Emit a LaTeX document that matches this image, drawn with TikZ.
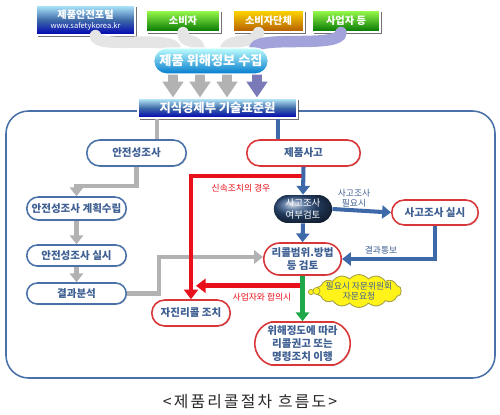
\documentclass[tikz,border=0pt]{standalone}
\usepackage{fontspec}
\setmainfont{Noto Sans CJK KR}
\usetikzlibrary{arrows.meta,shapes.misc,shapes.symbols,shadows,calc}
\definecolor{frameblue}{HTML}{4A72A8}
\definecolor{txtblue}{HTML}{3E5F92}
\definecolor{redline}{HTML}{E8101A}
\definecolor{pillred}{HTML}{D9363A}
\definecolor{conblue}{HTML}{3D69A8}
\definecolor{flowgray}{HTML}{B2B2B2}
\definecolor{greenline}{HTML}{1FA84A}
\begin{document}
\begin{tikzpicture}[x=0.02cm,y=-0.02cm,
  pill/.style={rounded rectangle, draw, line width=0.9pt, fill=white, text=txtblue, align=center,
    font=\fontsize{6}{7.2}\selectfont\bfseries, inner sep=1pt,
    drop shadow={shadow xshift=0.6pt, shadow yshift=-0.6pt, opacity=0.25}},
  bpill/.style={pill, draw=frameblue},
  rpill/.style={pill, draw=pillred},
  topbox/.style={rectangle, draw=white, line width=0.6pt, text=white, align=center, inner sep=1pt,
    font=\fontsize{5.8}{6.6}\selectfont\bfseries,
    drop shadow={shadow xshift=1.2pt, shadow yshift=-1.2pt, fill=black!70, opacity=0.8}},
  grayline/.style={draw=flowgray, line width=2.4pt},
  grayarrow/.style={grayline, -{Triangle[length=5pt,width=7.5pt]}},
  bluearrow/.style={draw=conblue, line width=2.3pt, -{Triangle[length=5pt,width=7.5pt]}},
  redarrow/.style={draw=redline, line width=2.8pt, -{Triangle[length=5.5pt,width=8pt]}},
  greenarrow/.style={draw=greenline, line width=2.4pt, -{Triangle[length=5pt,width=7.5pt]}},
  bigdown/.style={line width=5.5pt, -{Triangle[length=9pt,width=11.5pt]}},
  flowband/.style={line width=6.5pt, draw=gray!20, line cap=round},
  lbl/.style={font=\fontsize{5}{6}\selectfont, align=center, inner sep=0.5pt},
  collectstyle/.style={rounded rectangle, minimum width=2.36cm, minimum height=0.52cm, top color=cyan!25!white, bottom color=cyan!60!blue!80!black,
    draw=white, line width=0.6pt, text=white, font=\fontsize{7.5}{8}\selectfont\bfseries, inner sep=1pt},
]
\useasboundingbox (0,0) rectangle (500,415);

% frame
\draw[frameblue, line width=0.9pt, rounded corners=0.45cm] (6,111) rectangle (495,378);

% top boxes
\node[topbox, minimum width=1.98cm, minimum height=0.6cm, top color=blue!25!cyan!30!white, bottom color=blue!70!black, middle color=conblue]
  (portal) at (85.5,20) {제품안전포털\\[-1pt]{\fontsize{4.3}{5}\selectfont\mdseries www.safetykorea.kr}};
\node[topbox, minimum width=1.48cm, minimum height=0.44cm, top color=green!55!yellow!70!white, bottom color=green!45!black]
  (cons) at (183,21) {소비자};
\node[topbox, minimum width=1.42cm, minimum height=0.44cm, top color=yellow!70!orange, bottom color=orange!70!black]
  (group) at (268.5,21) {소비자단체};
\node[topbox, minimum width=1.36cm, minimum height=0.44cm, top color=green!55!yellow!70!white, bottom color=green!45!black]
  (biz) at (346,21) {사업자 등};

% collect (placeholder for anchors)
\node[collectstyle] (collect) at (211,61) {제품 위해정보 수집};

% flow bands into collect
\draw[flowband] ([xshift=0.2cm]portal.south) .. controls +(0,14) and +(-10,-12) .. ([xshift=-0.72cm]collect.north);
\draw[flowband] (cons.south) .. controls +(0,12) and +(-4,-10) .. ([xshift=-0.24cm]collect.north);
\draw[flowband] ([xshift=-0.2cm]group.south) .. controls +(0,12) and +(6,-10) .. ([xshift=0.3cm]collect.north);
\draw[line width=6.5pt, draw=gray!55!blue!50!white, line cap=round] ([xshift=-0.1cm]biz.south) .. controls +(0,16) and +(6,-12) .. ([xshift=0.88cm]collect.north);
\node[collectstyle] (collect2) at (collect) {제품 위해정보 수집};

% KATS
\node[topbox, minimum width=3.18cm, minimum height=0.4cm, top color=blue!20!cyan!25!white, bottom color=blue!70!black, middle color=conblue,
  font=\fontsize{7}{8}\selectfont\bfseries]
  (kats) at (217.5,108) {지식경제부 기술표준원};

% big down arrows
\draw[bigdown, draw=flowgray, fill=flowgray] ([xshift=-0.76cm]collect.south) -- ([xshift=-0.89cm]kats.north);
\draw[bigdown, draw=flowgray, fill=flowgray] ([xshift=-0.22cm]collect.south) -- ([xshift=-0.35cm]kats.north);
\draw[bigdown, draw=flowgray, fill=flowgray] ([xshift=0.32cm]collect.south) -- ([xshift=0.19cm]kats.north);
\draw[bigdown, draw=gray!70!blue!80!white, fill=gray!70!blue!80!white] ([xshift=0.92cm]collect.south) -- ([xshift=0.79cm]kats.north);

% pills
\node[bpill, minimum width=2.06cm, minimum height=0.52cm] (anj) at (136.5,153) {안전성조사};
\node[rpill, minimum width=2.34cm, minimum height=0.52cm] (acc) at (303.5,153) {제품사고};
\node[bpill, minimum width=2.06cm, minimum height=0.46cm] (plan) at (76.5,208.5) {안전성조사 계획수립};
\node[bpill, minimum width=2.06cm, minimum height=0.42cm] (exec) at (76.5,255.5) {안전성조사 실시};
\node[bpill, minimum width=2.06cm, minimum height=0.42cm] (anal) at (76.5,293.5) {결과분석};
\node[rpill, minimum width=1.8cm, minimum height=0.5cm] (invest) at (435,212.5) {사고조사 실시};
\node[rpill, minimum width=1.62cm, minimum height=0.64cm] (recall) at (302.5,259) {리콜범위.방법\\등 검토};
\node[rpill, minimum width=1.64cm, minimum height=0.52cm] (self) at (191,313) {자진리콜 조치};
\node[pill, draw=pillred, rounded rectangle arc length=150, minimum width=1.98cm, minimum height=0.86cm] (order) at (302.5,343.5) {위해정도에 따라\\리콜권고 또는\\명령조치 이행};
\node[rounded rectangle, minimum width=1.2cm, minimum height=0.56cm, ball color=conblue!80!black, draw=none,
  text=white, font=\fontsize{5.4}{6.4}\selectfont, align=center, inner sep=0.5pt] (review) at (303,209) {사고조사\\여부검토};

% connectors
\draw[grayline] ([xshift=0.41cm]anj.north |- kats.south) -- ([xshift=0.41cm]anj.north);
\draw[draw=conblue, line width=2.3pt] ([xshift=-0.51cm]acc.north |- kats.south) -- ([xshift=-0.51cm]acc.north);
\draw[grayarrow] (anj.south) -- ++(0,19) -| (plan.north);
\draw[grayarrow] (plan.south) -- (exec.north);
\draw[grayarrow] (exec.south) -- (anal.north);
\draw[grayarrow] (anal.east) -- ++(32,0) |- ([yshift=0.04cm]recall.west);

\coordinate (rs) at ($(acc.south)!0.33!(review.north)$);
\draw[redarrow] (rs) -| (self.north);
\draw[bluearrow] (acc.south) -- (review.north);
\node[lbl, text=redline] (lq) at (241,188) {신속조치의 경우};

\draw[bluearrow] (review.east) -- (invest.west);
\node[lbl, text=txtblue] (lneed) at (354,198) {사고조사\\필요시};
\draw[bluearrow] (invest.south) |- (recall.east);
\node[lbl, text=txtblue] (lres) at (381,250) {결과통보};
\draw[bluearrow] (review.south) -- (recall.north);

\coordinate (ra) at ($(recall.south)+(0,10)$);
\coordinate (rb) at ($(self.north |- ra)+(5,0)$);
\draw[redarrow] (ra) -- (rb);
\node[lbl, text=redline] (lag) at (262,297) {사업자와 합의시};
\draw[greenarrow] (recall.south) -- (order.north);

% cloud callout
\node[cloud, cloud puffs=14, cloud puff arc=100, aspect=3.4, draw=yellow!60!black, fill=yellow!90!white, line width=0.5pt,
  minimum width=1.62cm, minimum height=0.48cm, lbl, text=txtblue, inner sep=-2pt] (cloud) at (359,291) {필요시 자문위원회\\자문요청};
\node[circle, draw=yellow!60!black, fill=yellow!90!white, line width=0.4pt, inner sep=0pt, minimum size=3pt] (b1) at (311,292) {};
\node[circle, draw=yellow!60!black, fill=yellow!90!white, line width=0.4pt, inner sep=0pt, minimum size=4pt] (b2) at (316.5,291) {};

% caption
\node[font=\fontsize{9}{10}\selectfont, text=black!85, inner sep=0pt] (cap) at (250,402) {\addfontfeature{LetterSpace=14}<제품리콜절차 흐름도>};
\end{tikzpicture}
\end{document}
